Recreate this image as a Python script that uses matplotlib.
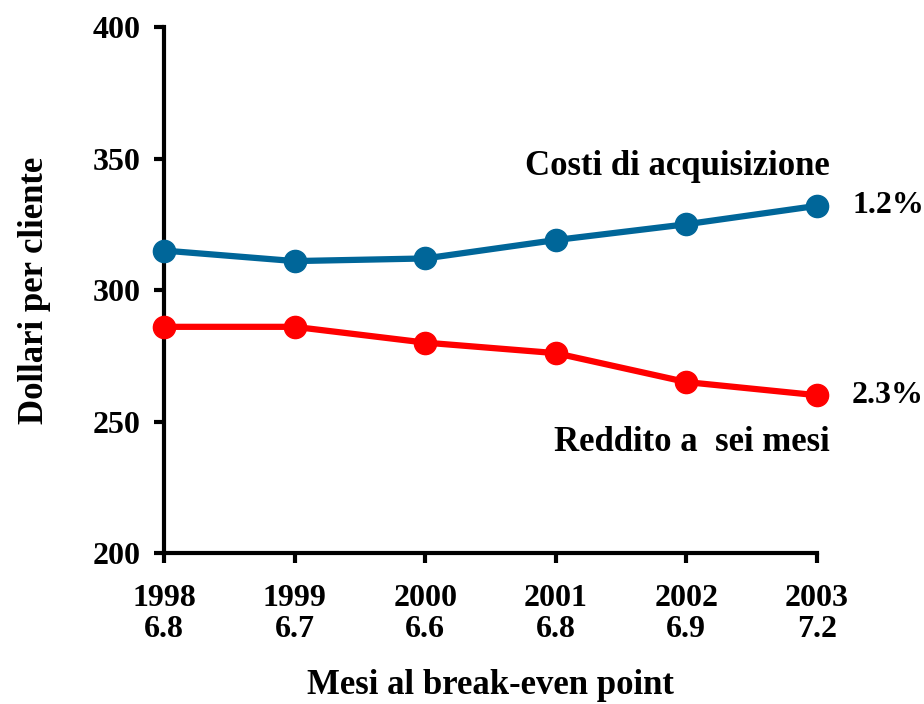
"""
Costi di acquisizione vs reddito a sei mesi, 1998-2003
"""
import matplotlib
matplotlib.use('Agg')
import matplotlib.pyplot as plt

years = [1998, 1999, 2000, 2001, 2002, 2003]
months_breakeven = ['6.8', '6.7', '6.6', '6.8', '6.9', '7.2']
acquisition_cost = [315, 311, 312, 319, 325, 332]
six_month_revenue = [286, 286, 280, 276, 265, 260]
y_ticks = [200, 250, 300, 350, 400]

plt.rcParams['font.family'] = ['Liberation Serif', 'DejaVu Serif']
plt.rcParams['font.weight'] = 'bold'

fig = plt.figure(figsize=(9.24, 7.04), dpi=100)
ax = fig.add_axes([0.1775, 0.2145, 0.7065, 0.7471])

blue = '#006699'
red = '#ff0000'
ax.plot(years, acquisition_cost, color=blue, lw=4.5, marker='o', ms=16,
        clip_on=False, zorder=3)
ax.plot(years, six_month_revenue, color=red, lw=4.5, marker='o', ms=16,
        clip_on=False, zorder=3)

ax.set_xlim(years[0], years[-1])
ax.set_ylim(200, 400)
ax.set_yticks(y_ticks)
ax.set_xticks(years)
ax.set_xticklabels(['%d\n%s' % (y, m) for y, m in zip(years, months_breakeven)])

for s in ['top', 'right']:
    ax.spines[s].set_visible(False)
for s in ['left', 'bottom']:
    ax.spines[s].set_linewidth(3)
ax.tick_params(axis='both', direction='out', length=7, width=3,
               labelsize=23, pad=10)
ax.tick_params(axis='x', pad=15)
for lab in ax.get_xticklabels() + ax.get_yticklabels():
    lab.set_fontweight('bold')
    lab.set_linespacing(1.1)

ax.set_ylabel('Dollari per cliente', fontsize=25, fontweight='bold',
              labelpad=30)
ax.set_xlabel('Mesi al break-even point', fontsize=25, fontweight='bold',
              labelpad=18)

ax.text(years[-1] + 0.1, 347, 'Costi di acquisizione', fontsize=25,
        fontweight='bold', ha='right', va='center')
ax.text(years[-1] + 0.1, 242, 'Reddito a  sei mesi', fontsize=25,
        fontweight='bold', ha='right', va='center')
ax.text(years[-1] + 0.27, acquisition_cost[-1], '1.2%', fontsize=23,
        fontweight='bold', ha='left', va='center')
ax.text(years[-1] + 0.27, six_month_revenue[-1], '2.3%', fontsize=23,
        fontweight='bold', ha='left', va='center')

fig.savefig('out.png', dpi=100)
